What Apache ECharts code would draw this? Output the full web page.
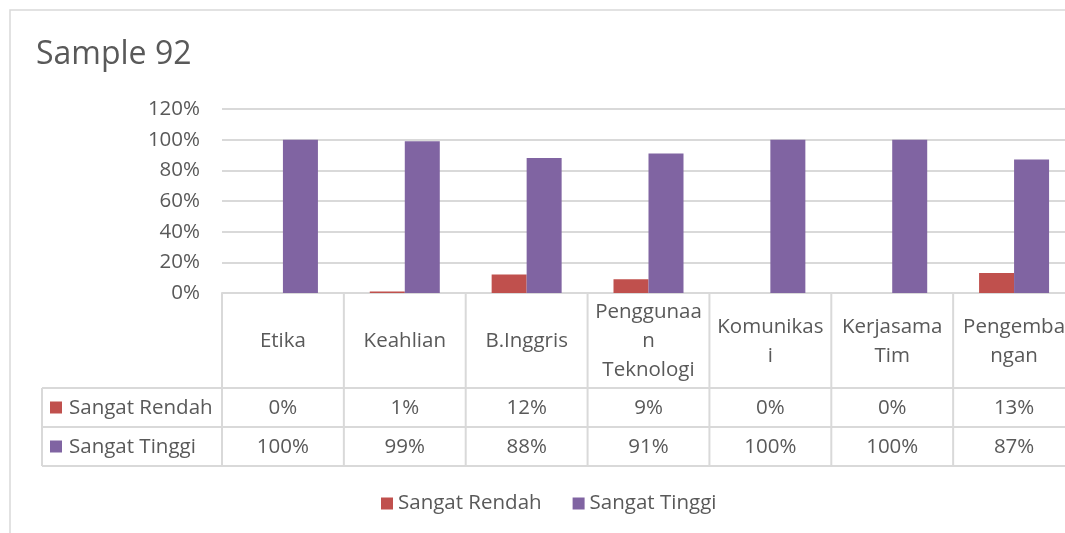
<!DOCTYPE html>
<html>
<head>
<meta charset="utf-8">
<title></title>
<script src="https://cdn.jsdelivr.net/npm/echarts@6/dist/echarts.min.js" type="text/javascript" charset="utf-8"></script>
<style>
  html, body { margin: 0; padding: 0; background: #fff; }
</style>
</head>
<body>
<div id="mainChart" style="width: 1065px;height:533px;"></div>
<script type="text/javascript">
// data
var categories = ['Etika', 'Keahlian', 'B.Inggris', 'Penggunaan Teknologi', 'Komunikasi', 'Kerjasama Tim', 'Pengembangan'];
// wrapped the way the header cells show them
var tickLabels = ['Etika', 'Keahlian', 'B.Inggris', 'Penggunaa\nn\nTeknologi', 'Komunikas\ni', 'Kerjasama\nTim', 'Pengemba\nngan'];
var seriesNames = ['Sangat Rendah', 'Sangat Tinggi'];
var rendah = [0, 0.01, 0.12, 0.09, 0, 0, 0.13];
var tinggi = [1, 0.99, 0.88, 0.91, 1, 1, 0.87];
var yTicks = [0, 0.2, 0.4, 0.6, 0.8, 1.0, 1.2];
var colors = ['#C0504D', '#8064A2'];

var FONT = 'Open Sans';
var TXT = '#595959';
var LINE = '#d9d9d9';
var FS = 20.5;

function pct(v) { return Math.round(v * 100) + '%'; }

var dom = document.getElementById('mainChart');
var myChart = echarts.init(dom);

var option = {
  animation: false,
  backgroundColor: '#fff',
  textStyle: { fontFamily: FONT, color: TXT },
  title: {
    text: 'Sample 92',
    left: 31, top: 34,
    textStyle: { fontFamily: FONT, fontSize: 32, fontWeight: 'normal', color: TXT }
  },
  legend: {
    data: seriesNames,
    top: 488,
    left: 376,
    icon: 'rect',
    itemWidth: 12, itemHeight: 12,
    itemGap: 31,
    textStyle: { fontFamily: FONT, fontSize: FS, color: TXT }
  },
  grid: { left: 222, top: 109, width: 853, height: 184, outerBoundsMode: 'none', containLabel: false },
  xAxis: {
    type: 'category',
    data: categories,
    axisLine: { lineStyle: { color: LINE, width: 2 } },
    axisTick: { show: false },
    axisLabel: { show: false }
  },
  yAxis: {
    type: 'value',
    min: yTicks[0], max: yTicks[yTicks.length - 1], interval: 0.2,
    axisLine: { show: false },
    axisTick: { show: false },
    axisLabel: { formatter: pct, fontFamily: FONT, fontSize: FS, color: TXT, margin: 22 },
    splitLine: { lineStyle: { color: LINE, width: 2 } }
  },
  series: [
    { name: seriesNames[0], type: 'bar', data: rendah, barWidth: 35, barGap: '0%', itemStyle: { color: colors[0] } },
    { name: seriesNames[1], type: 'bar', data: tinggi, barWidth: 35, barGap: '0%', itemStyle: { color: colors[1] } }
  ]
};
myChart.setOption(option, true);

// data table under the plot, positioned from the axis scale
function buildTable() {
  var y0 = myChart.convertToPixel({ yAxisIndex: 0 }, 0);
  var c0 = myChart.convertToPixel({ xAxisIndex: 0 }, 0);
  var band = myChart.convertToPixel({ xAxisIndex: 0 }, 1) - c0;
  var gl = c0 - band / 2;
  var gr = gl + band * categories.length;
  var rowH = [95, 39, 39];
  var yHead = y0 + rowH[0], yR1 = yHead + rowH[1], yR2 = yR1 + rowH[2];
  var leftX = 42;
  var els = [];
  var ls = { stroke: LINE, lineWidth: 2 };
  var font = FS + 'px "' + FONT + '"';

  // frame
  els.push({ type: 'rect', shape: { x: 10, y: 10, width: 1200, height: 700 }, style: { fill: null, stroke: LINE, lineWidth: 1.5 }, silent: true, z: -1 });

  [yHead, yR1, yR2].forEach(function (y) {
    els.push({ type: 'line', shape: { x1: leftX, y1: y, x2: gr, y2: y }, style: ls });
  });
  for (var i = 0; i <= categories.length; i++) {
    var x = gl + band * i;
    els.push({ type: 'line', shape: { x1: x, y1: y0, x2: x, y2: yR2 }, style: ls });
  }
  els.push({ type: 'line', shape: { x1: leftX, y1: yHead, x2: leftX, y2: yR2 }, style: ls });

  var rows = [rendah, tinggi];
  for (var j = 0; j < categories.length; j++) {
    var cx = c0 + band * j;
    els.push({ type: 'text', x: cx, y: y0 + rowH[0] / 2 + 1, style: {
      text: tickLabels[j], fill: TXT, font: font, align: 'center', verticalAlign: 'middle', lineHeight: 29 } });
    rows.forEach(function (r, k) {
      var ry = (k === 0 ? yHead : yR1) + rowH[k + 1] / 2 + 1;
      els.push({ type: 'text', x: cx, y: ry, style: {
        text: pct(r[j]), fill: TXT, font: font, align: 'center', verticalAlign: 'middle' } });
    });
  }
  seriesNames.forEach(function (n, k) {
    var ry = (k === 0 ? yHead : yR1) + rowH[k + 1] / 2;
    els.push({ type: 'rect', shape: { x: 50, y: ry - 6, width: 12, height: 12 }, style: { fill: colors[k] } });
    els.push({ type: 'text', x: 69, y: ry + 1, style: {
      text: n, fill: TXT, font: font, align: 'left', verticalAlign: 'middle' } });
  });
  myChart.setOption({ graphic: els });
}
buildTable();
</script>
</body>
</html>
